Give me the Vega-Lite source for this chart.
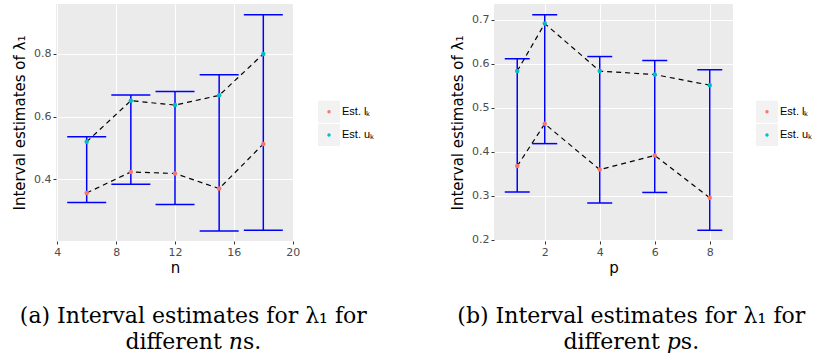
{
  "$schema": "https://vega.github.io/schema/vega-lite/v6.json",
  "padding": {"left": 12, "top": 4, "right": 0, "bottom": 0},
  "background": "white",
  "spacing": 75,
  "config": {
    "view": {"fill": "#EBEBEB", "stroke": null},
    "axis": {
      "domain": false,
      "gridColor": "white",
      "tickColor": "#333333",
      "tickSize": 3,
      "tickWidth": 1,
      "labelColor": "#4D4D4D",
      "labelFont": "DejaVu Sans",
      "labelFontSize": 11,
      "labelPadding": 2,
      "labelFlush": false,
      "labelOverlap": false,
      "titleFont": "DejaVu Sans",
      "titleFontSize": 15,
      "titleFontWeight": "normal",
      "titleColor": "black"
    },
    "axisX": {"titlePadding": 3},
    "axisY": {"titlePadding": 6},
    "title": {
      "font": "DejaVu Serif",
      "fontSize": 22,
      "fontWeight": "normal",
      "color": "black",
      "lineHeight": 26
    }
  },
  "datasets": {
    "byN": [
      {"n": 6, "lo": 0.3265, "hi": 0.536, "l": 0.357, "u": 0.520},
      {"n": 9, "lo": 0.385, "hi": 0.669, "l": 0.424, "u": 0.651},
      {"n": 12, "lo": 0.320, "hi": 0.680, "l": 0.419, "u": 0.637},
      {"n": 15, "lo": 0.236, "hi": 0.734, "l": 0.371, "u": 0.668},
      {"n": 18, "lo": 0.238, "hi": 0.925, "l": 0.513, "u": 0.800}
    ],
    "byP": [
      {"p": 1, "lo": 0.308, "hi": 0.611, "l": 0.367, "u": 0.583},
      {"p": 2, "lo": 0.418, "hi": 0.711, "l": 0.463, "u": 0.691},
      {"p": 4, "lo": 0.283, "hi": 0.616, "l": 0.359, "u": 0.583},
      {"p": 6, "lo": 0.307, "hi": 0.607, "l": 0.391, "u": 0.575},
      {"p": 8, "lo": 0.221, "hi": 0.586, "l": 0.295, "u": 0.551}
    ],
    "keys": [
      {"series": "l", "label": "Est. lₖ"},
      {"series": "u", "label": "Est. uₖ"}
    ]
  },
  "hconcat": [
    {
      "title": {"text": ["(a) Interval estimates for λ₁ for", "different 𝑛s."], "orient": "bottom", "frame": "bounds", "anchor": "middle", "offset": 31},
      "spacing": 18,
      "hconcat": [
        {
          "width": 238,
          "height": 237,
          "data": {"name": "byN"},
          "resolve": {"axis": {"x": "independent", "y": "independent"}},
          "layer": [
            {
              "mark": {"type": "rule", "color": "#0000FF", "strokeWidth": 1.5},
              "encoding": {
                "x": {"field": "n", "type": "quantitative",
                  "scale": {"domain": [3.915, 20.085], "nice": false, "zero": false},
                  "axis": {"orient": "bottom", "values": [4, 8, 12, 16, 20], "gridWidth": 1.1, "title": "n"}},
                "y": {"field": "lo", "type": "quantitative",
                  "scale": {"domain": [0.204, 0.959], "nice": false, "zero": false},
                  "axis": {"orient": "left", "values": [0.4, 0.6, 0.8], "gridWidth": 1.1, "title": "Interval estimates of λ₁"}},
                "y2": {"field": "hi"}
              }
            },
            {
              "mark": {"type": "tick", "orient": "horizontal", "color": "#0000FF", "thickness": 1.5, "size": 39, "opacity": 1},
              "encoding": {
                "x": {"field": "n", "type": "quantitative",
                  "axis": {"orient": "bottom", "values": [6, 10, 14, 18], "gridWidth": 0.55, "labels": false, "ticks": false, "title": null}},
                "y": {"field": "lo", "type": "quantitative",
                  "axis": {"orient": "left", "values": [0.3, 0.5, 0.7, 0.9], "gridWidth": 0.55, "labels": false, "ticks": false, "title": null}}
              }
            },
            {
              "mark": {"type": "tick", "orient": "horizontal", "color": "#0000FF", "thickness": 1.5, "size": 39, "opacity": 1},
              "encoding": {
                "x": {"field": "n", "type": "quantitative", "axis": null},
                "y": {"field": "hi", "type": "quantitative", "axis": null}
              }
            },
            {
              "transform": [{"fold": ["l", "u"], "as": ["series", "value"]}],
              "mark": {"type": "line", "color": "black", "strokeDash": [5, 4], "strokeWidth": 1.2},
              "encoding": {
                "x": {"field": "n", "type": "quantitative", "axis": null},
                "y": {"field": "value", "type": "quantitative", "axis": null},
                "detail": {"field": "series"}
              }
            },
            {
              "transform": [{"fold": ["l", "u"], "as": ["series", "value"]}],
              "mark": {"type": "circle", "size": 20, "opacity": 1},
              "encoding": {
                "x": {"field": "n", "type": "quantitative", "axis": null},
                "y": {"field": "value", "type": "quantitative", "axis": null},
                "color": {"field": "series", "type": "nominal", "scale": {"domain": ["l", "u"], "range": ["#F8766D", "#00BFC4"]}, "legend": null}
              }
            }
          ]
        },
        {
          "width": 22,
          "height": 237,
          "view": {"fill": null, "stroke": null},
          "data": {"name": "keys"},
          "encoding": {
            "y": {"field": "label", "type": "nominal", "scale": {"type": "point", "padding": 0, "domain": ["Est. lₖ", "Est. uₖ"], "range": [107.7, 131]}, "axis": null}
          },
          "layer": [
            {"mark": {"type": "square", "size": 484, "color": "#F2F2F2", "opacity": 1}},
            {"mark": {"type": "circle", "size": 12, "opacity": 1},
             "encoding": {"color": {"field": "series", "type": "nominal", "scale": {"domain": ["l", "u"], "range": ["#F8766D", "#00BFC4"]}, "legend": null}}},
            {"mark": {"type": "text", "align": "left", "dx": 13, "font": "Liberation Sans", "fontSize": 11, "color": "black"},
             "encoding": {"text": {"field": "label"}}}
          ]
        }
      ]
    },
    {
      "title": {"text": ["(b) Interval estimates for λ₁ for", "different 𝑝s."], "orient": "bottom", "frame": "bounds", "anchor": "middle", "offset": 31},
      "spacing": 23,
      "hconcat": [
        {
          "width": 239,
          "height": 237,
          "data": {"name": "byP"},
          "resolve": {"axis": {"x": "independent", "y": "independent"}},
          "layer": [
            {
              "mark": {"type": "rule", "color": "#0000FF", "strokeWidth": 1.5},
              "encoding": {
                "x": {"field": "p", "type": "quantitative",
                  "scale": {"domain": [0.155, 8.845], "nice": false, "zero": false},
                  "axis": {"orient": "bottom", "values": [2, 4, 6, 8], "gridWidth": 1.1, "title": "p"}},
                "y": {"field": "lo", "type": "quantitative",
                  "scale": {"domain": [0.1966, 0.7355], "nice": false, "zero": false},
                  "axis": {"orient": "left", "values": [0.2, 0.3, 0.4, 0.5, 0.6, 0.7], "gridWidth": 1.1, "title": "Interval estimates of λ₁"}},
                "y2": {"field": "hi"}
              }
            },
            {
              "mark": {"type": "tick", "orient": "horizontal", "color": "#0000FF", "thickness": 1.5, "size": 25, "opacity": 1},
              "encoding": {
                "x": {"field": "p", "type": "quantitative",
                  "axis": {"orient": "bottom", "values": [1, 3, 5, 7], "gridWidth": 0.55, "labels": false, "ticks": false, "title": null}},
                "y": {"field": "lo", "type": "quantitative",
                  "axis": {"orient": "left", "values": [0.25, 0.35, 0.45, 0.55, 0.65], "gridWidth": 0.55, "labels": false, "ticks": false, "title": null}}
              }
            },
            {
              "mark": {"type": "tick", "orient": "horizontal", "color": "#0000FF", "thickness": 1.5, "size": 25, "opacity": 1},
              "encoding": {
                "x": {"field": "p", "type": "quantitative", "axis": null},
                "y": {"field": "hi", "type": "quantitative", "axis": null}
              }
            },
            {
              "transform": [{"fold": ["l", "u"], "as": ["series", "value"]}],
              "mark": {"type": "line", "color": "black", "strokeDash": [5, 4], "strokeWidth": 1.2},
              "encoding": {
                "x": {"field": "p", "type": "quantitative", "axis": null},
                "y": {"field": "value", "type": "quantitative", "axis": null},
                "detail": {"field": "series"}
              }
            },
            {
              "transform": [{"fold": ["l", "u"], "as": ["series", "value"]}],
              "mark": {"type": "circle", "size": 20, "opacity": 1},
              "encoding": {
                "x": {"field": "p", "type": "quantitative", "axis": null},
                "y": {"field": "value", "type": "quantitative", "axis": null},
                "color": {"field": "series", "type": "nominal", "scale": {"domain": ["l", "u"], "range": ["#F8766D", "#00BFC4"]}, "legend": null}
              }
            }
          ]
        },
        {
          "width": 22,
          "height": 237,
          "view": {"fill": null, "stroke": null},
          "data": {"name": "keys"},
          "encoding": {
            "y": {"field": "label", "type": "nominal", "scale": {"type": "point", "padding": 0, "domain": ["Est. lₖ", "Est. uₖ"], "range": [107.7, 131]}, "axis": null}
          },
          "layer": [
            {"mark": {"type": "square", "size": 484, "color": "#F2F2F2", "opacity": 1}},
            {"mark": {"type": "circle", "size": 12, "opacity": 1},
             "encoding": {"color": {"field": "series", "type": "nominal", "scale": {"domain": ["l", "u"], "range": ["#F8766D", "#00BFC4"]}, "legend": null}}},
            {"mark": {"type": "text", "align": "left", "dx": 13, "font": "Liberation Sans", "fontSize": 11, "color": "black"},
             "encoding": {"text": {"field": "label"}}}
          ]
        }
      ]
    }
  ]
}
